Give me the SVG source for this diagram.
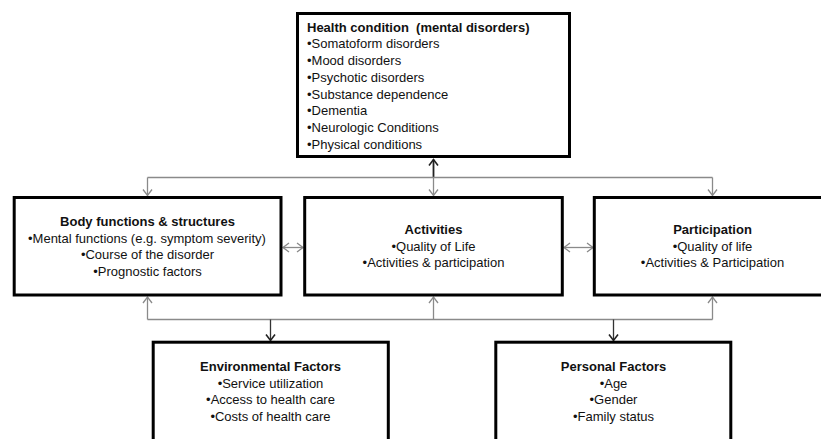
<svg xmlns="http://www.w3.org/2000/svg" width="821" height="439" viewBox="0 0 821 439">
  <style>
    .box { fill: #ffffff; stroke: #000000; stroke-width: 3; }
    .t { font-family: "Liberation Sans", Arial, sans-serif; font-size: 13px; fill: #111111; }
    .h { font-weight: bold; }
    .c { text-anchor: middle; }
    .ln { fill: none; stroke: #8a8a8a; stroke-width: 1.3; }
    .dk { fill: none; stroke: #222222; stroke-width: 1.8; }
  </style>
  <defs>
    <marker id="arr" markerUnits="userSpaceOnUse" markerWidth="14" markerHeight="14" refX="7" refY="5" orient="auto-start-reverse" viewBox="0 0 14 10">
      <path d="M1,0.5 L7,5 L1,9.5" fill="none" stroke="#8a8a8a" stroke-width="1.3"/>
    </marker>
    <marker id="arrDk" markerUnits="userSpaceOnUse" markerWidth="14" markerHeight="14" refX="7" refY="5" orient="auto-start-reverse" viewBox="0 0 14 10">
      <path d="M1,0.5 L7,5 L1,9.5" fill="none" stroke="#222222" stroke-width="1.6"/>
    </marker>
  </defs>

  <g id="connectors">
    <!-- upper bus: health condition to the three middle boxes -->
    <path class="dk" d="M433.5,177.5 L433.5,159.5" marker-end="url(#arrDk)"/>
    <path class="ln" d="M147.5,177.5 L712.5,177.5"/>
    <path class="ln" d="M147.5,177.5 L147.5,195.5" marker-end="url(#arr)"/>
    <path class="ln" d="M433.5,177.5 L433.5,195.5" marker-end="url(#arr)"/>
    <path class="ln" d="M712.5,177.5 L712.5,195.5" marker-end="url(#arr)"/>
    <!-- links between middle boxes -->
    <path class="ln" d="M283,247.5 L303,247.5" marker-start="url(#arr)" marker-end="url(#arr)"/>
    <path class="ln" d="M564,247.5 L593,247.5" marker-start="url(#arr)" marker-end="url(#arr)"/>
    <!-- lower bus: contextual factors to the middle boxes -->
    <path class="ln" d="M147.5,319.5 L712.5,319.5"/>
    <path class="ln" d="M147.5,319.5 L147.5,297" marker-end="url(#arr)"/>
    <path class="ln" d="M433.5,319.5 L433.5,297" marker-end="url(#arr)"/>
    <path class="ln" d="M712.5,319.5 L712.5,297" marker-end="url(#arr)"/>
    <path class="dk" d="M270.5,319.5 L270.5,340.5" marker-end="url(#arrDk)" style="stroke:#333333;stroke-width:1.3"/>
    <path class="dk" d="M613.5,319.5 L613.5,340.5" marker-end="url(#arrDk)" style="stroke:#333333;stroke-width:1.3"/>
  </g>

  <g id="health-condition">
    <rect class="box" x="297.5" y="13.5" width="272" height="143"/>
    <text class="t h" x="307" y="31.5">Health condition&#160; (mental disorders)</text>
    <text class="t" x="307" y="48.3">•Somatoform disorders</text>
    <text class="t" x="307" y="65">•Mood disorders</text>
    <text class="t" x="307" y="81.8">•Psychotic disorders</text>
    <text class="t" x="307" y="98.6">•Substance dependence</text>
    <text class="t" x="307" y="115.4">•Dementia</text>
    <text class="t" x="307" y="132.2">•Neurologic Conditions</text>
    <text class="t" x="307" y="149">•Physical conditions</text>
  </g>

  <g id="body-functions">
    <rect class="box" x="14.2" y="197.5" width="266.8" height="97.5"/>
    <text class="t h c" x="147.5" y="225.5">Body functions &amp; structures</text>
    <text class="t c" x="147" y="242.5">•Mental functions (e.g. symptom severity)</text>
    <text class="t c" x="147.5" y="259">•Course of the disorder</text>
    <text class="t c" x="147.5" y="275.5">•Prognostic factors</text>
  </g>

  <g id="activities">
    <rect class="box" x="304.7" y="197.5" width="257.6" height="97.5"/>
    <text class="t h c" x="433.5" y="234">Activities</text>
    <text class="t c" x="433.5" y="250.5">•Quality of Life</text>
    <text class="t c" x="433.5" y="267">•Activities &amp; participation</text>
  </g>

  <g id="participation">
    <rect class="box" x="594.3" y="197.5" width="240" height="97.5"/>
    <text class="t h c" x="712.5" y="234">Participation</text>
    <text class="t c" x="712.5" y="250.5">•Quality of life</text>
    <text class="t c" x="712.5" y="267">•Activities &amp; Participation</text>
  </g>

  <g id="environmental-factors">
    <rect class="box" x="153.2" y="342.2" width="235.1" height="110"/>
    <text class="t h c" x="270.5" y="371">Environmental Factors</text>
    <text class="t c" x="270.5" y="387.7">•Service utilization</text>
    <text class="t c" x="270.5" y="404.4">•Access to health care</text>
    <text class="t c" x="270.5" y="421">•Costs of health care</text>
  </g>

  <g id="personal-factors">
    <rect class="box" x="495.8" y="342.2" width="235" height="110"/>
    <text class="t h c" x="613.5" y="371">Personal Factors</text>
    <text class="t c" x="613.5" y="387.7">•Age</text>
    <text class="t c" x="613.5" y="404.4">•Gender</text>
    <text class="t c" x="613.5" y="421">•Family status</text>
  </g>
</svg>
